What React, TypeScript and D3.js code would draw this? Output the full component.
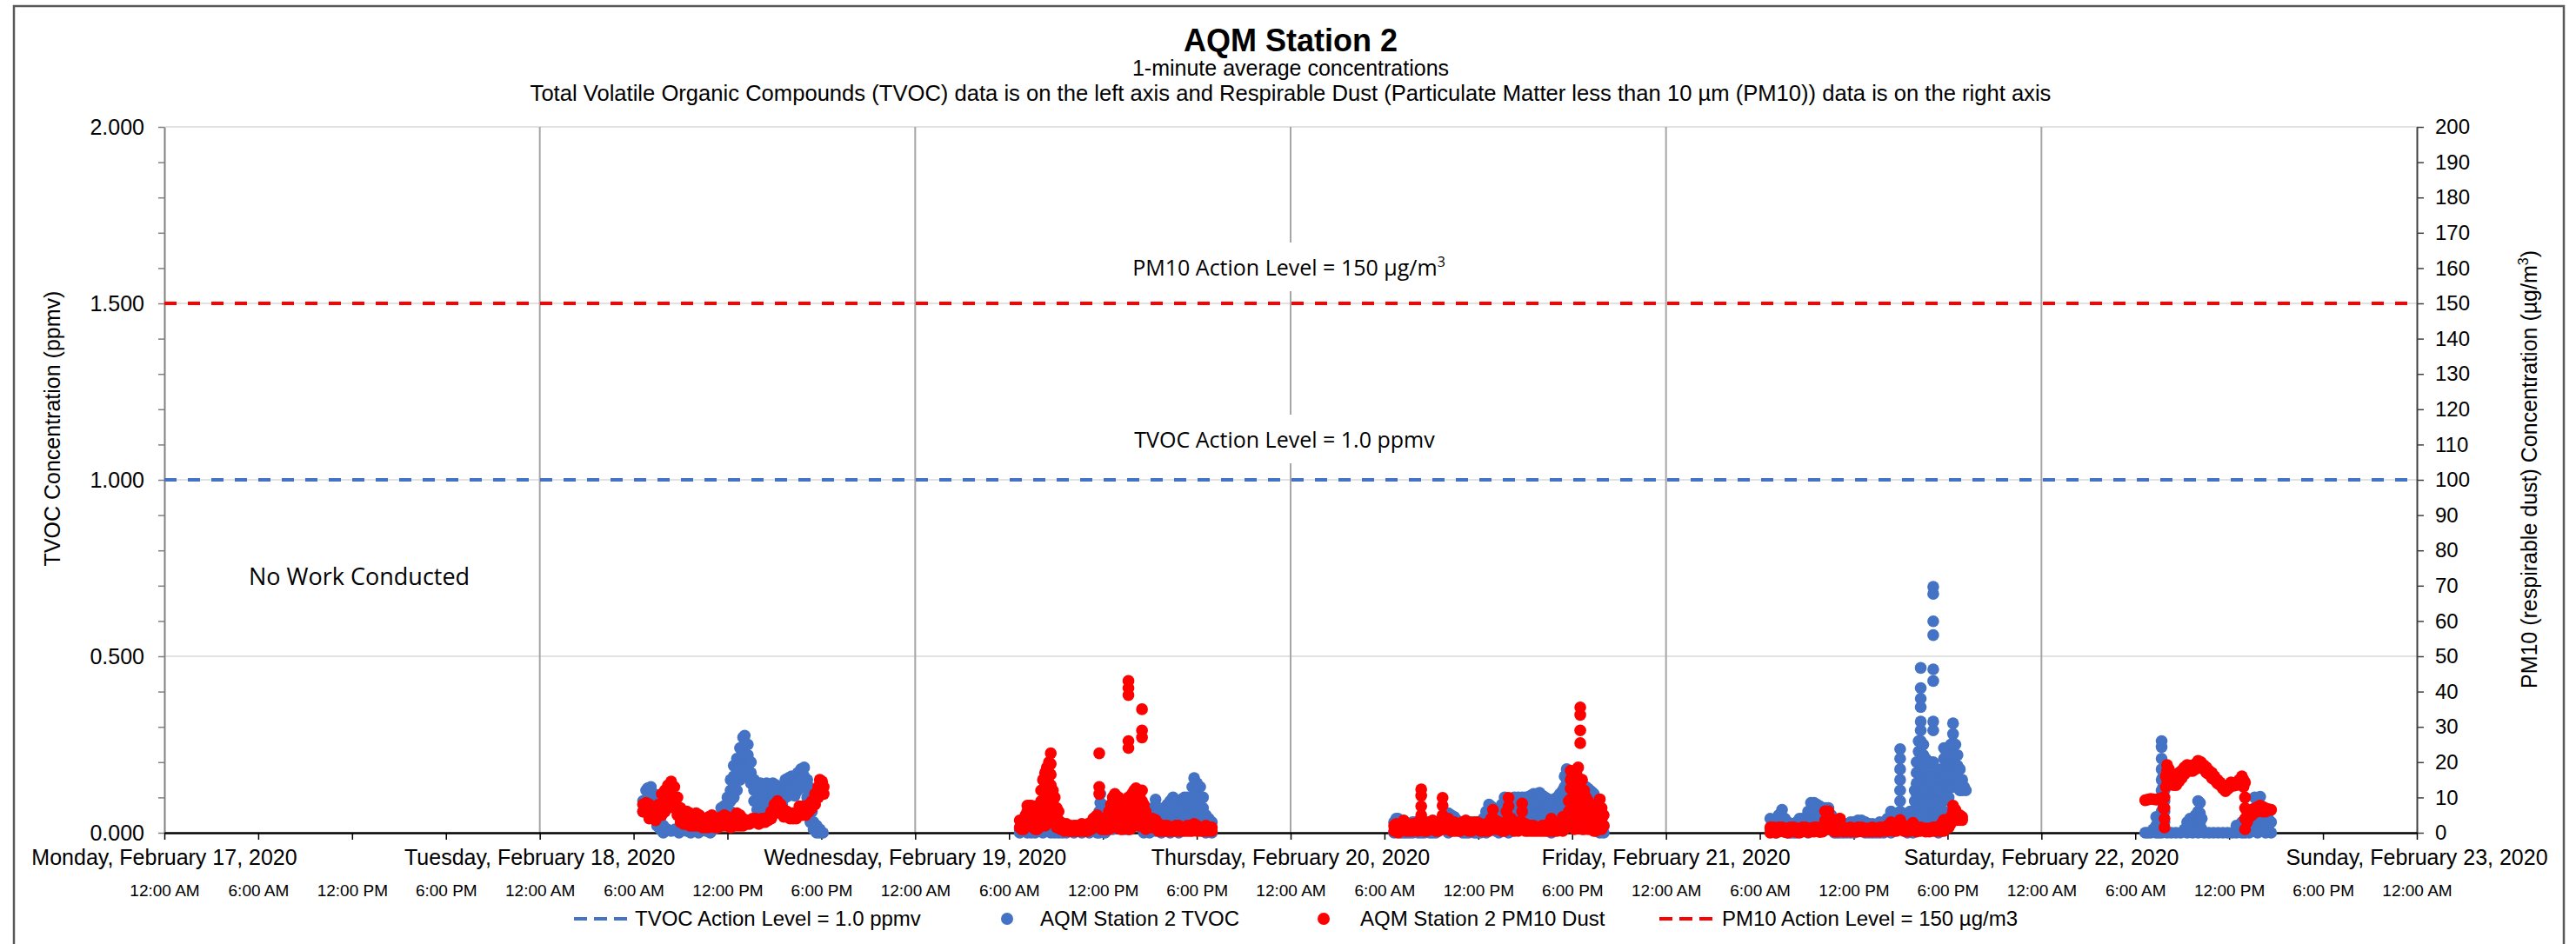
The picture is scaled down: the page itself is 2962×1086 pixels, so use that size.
import React, { useRef, useEffect } from "react";
import * as d3 from "d3";

// each row: [hour of day, reading, reading, ...]
type Row = number[];

const dayLabels = [
    "Monday, February 17, 2020",
    "Tuesday, February 18, 2020",
    "Wednesday, February 19, 2020",
    "Thursday, February 20, 2020",
    "Friday, February 21, 2020",
    "Saturday, February 22, 2020",
    "Sunday, February 23, 2020",
];
const tvocTicks = d3.range(0, 21).map((i) => i / 10);
const pm10Ticks = d3.range(0, 21).map((i) => i * 10);
const tvocGrid = [0.5, 1.0, 1.5, 2.0];
const tvocActionLevel = 1.0;
const pm10ActionLevel = 150;

const tvocFeb18: Row[] = [
    [6.6, 0.09, 0.06], [6.8, 0.12, 0.09, 0.06], [6.9, 0.126, 0.1, 0.07], [7.1, 0.13, 0.1, 0.08],
    [7.3, 0.11, 0.08, 0.05], [7.5, 0.07, 0.04, 0.02], [7.7, 0.04, 0.01], [7.9, 0.02, 0.0],
    [8.15, 0.01], [8.4, 0.005], [8.65, 0.01], [8.9, 0.0], [9.15, 0.01], [9.4, 0.005], [9.65, 0.0],
    [9.9, 0.01], [10.15, 0.0], [10.4, 0.01], [10.65, 0.005], [10.9, 0.0], [11.15, 0.01], [11.4, 0.02],
    [11.6, 0.07, 0.05, 0.03], [11.8, 0.076, 0.05, 0.03], [12.0, 0.1, 0.08, 0.05],
    [12.2, 0.15, 0.12, 0.09, 0.06], [12.4, 0.19, 0.16, 0.13, 0.1], [12.6, 0.21, 0.18, 0.15, 0.12],
    [12.8, 0.24, 0.21, 0.18, 0.15], [13.0, 0.27, 0.245, 0.22, 0.19], [13.1, 0.275, 0.25, 0.22, 0.19, 0.16],
    [13.3, 0.25, 0.22, 0.19, 0.16], [13.5, 0.2, 0.17, 0.14], [13.7, 0.15, 0.12, 0.09],
    [13.9, 0.14, 0.115, 0.09, 0.065], [14.1, 0.14, 0.115, 0.09, 0.065], [14.3, 0.135, 0.11, 0.085, 0.06],
    [14.5, 0.14, 0.115, 0.09, 0.065], [14.7, 0.135, 0.11, 0.085, 0.06], [14.9, 0.14, 0.115, 0.09, 0.065],
    [15.1, 0.135, 0.11, 0.085, 0.06], [15.3, 0.13, 0.105, 0.08], [15.5, 0.13, 0.105, 0.08],
    [15.7, 0.15, 0.125, 0.1], [15.9, 0.155, 0.13, 0.105], [16.1, 0.16, 0.135, 0.11],
    [16.3, 0.155, 0.13, 0.105], [16.5, 0.17, 0.145, 0.12], [16.7, 0.18, 0.155, 0.13],
    [16.9, 0.185, 0.16, 0.135], [17.1, 0.15, 0.125, 0.1], [17.2, 0.13, 0.1, 0.07],
    [17.3, 0.09, 0.06, 0.03], [17.4, 0.06, 0.03], [17.5, 0.03, 0.01], [17.7, 0.02, 0.0],
    [17.9, 0.01, 0.0], [18.1, 0.0],
];
const pm10Feb18: Row[] = [
    [6.6, 8, 6], [6.8, 8.5, 6.5], [7.0, 8, 6, 4], [7.2, 6.5, 4.5], [7.4, 5.5, 3.5], [7.6, 8, 5],
    [7.8, 11, 8, 5], [8.0, 12, 9, 6], [8.2, 13.5, 10.5, 8], [8.4, 14.5, 11.5, 9], [8.6, 13, 10, 7],
    [8.8, 10, 7, 5], [9.0, 7, 5, 3], [9.2, 6, 4, 2.5], [9.4, 6, 4, 2.5], [9.6, 5.5, 3.5, 2],
    [9.8, 5, 3, 2], [10.0, 5.5, 3.5, 2], [10.2, 5, 3, 2], [10.4, 4, 2.5, 1.5], [10.6, 4, 2.5, 1.5],
    [10.8, 4.5, 3, 1.5], [11.0, 5, 3, 2], [11.2, 4, 2.5, 1.5], [11.4, 4, 2.5, 1.5], [11.6, 4.5, 3, 2],
    [11.8, 5, 3, 2], [12.0, 4.5, 3, 2], [12.2, 4, 2.5, 1.5], [12.4, 4, 2.5, 2], [12.6, 5.5, 3.5, 2],
    [12.8, 5, 3, 2], [13.0, 4, 2.5, 2], [13.2, 3.5, 2.5], [13.4, 3.5, 2.5], [13.6, 4, 3],
    [13.8, 4, 3], [14.0, 3.5, 2.5], [14.2, 4, 3], [14.4, 4, 3], [14.6, 4.5, 3.5], [14.8, 6, 4],
    [15.0, 8, 5.5], [15.2, 9, 6.5], [15.4, 8, 5.5], [15.6, 6.5, 4.5], [15.8, 6, 4.5], [16.0, 5.5, 4],
    [16.2, 5.5, 4], [16.4, 5, 4], [16.6, 7.5, 5], [16.8, 7.5, 5], [17.0, 7, 5], [17.2, 8, 6],
    [17.4, 9, 7], [17.6, 11, 8], [17.8, 13, 10], [17.9, 15, 12], [18.05, 14.5, 11.5], [18.15, 13, 11],
];

const tvocFeb19: Row[] = [
    [6.68, 0.01, 0.0], [6.93, 0.005], [7.17, 0.01, 0.0], [7.42, 0.0], [7.67, 0.01, 0.0], [7.92, 0.005],
    [8.17, 0.0], [8.41, 0.01], [8.66, 0.005, 0.0], [8.91, 0.0], [9.16, 0.0], [9.41, 0.0], [9.66, 0.0],
    [10.15, 0.0], [10.65, 0.0], [11.14, 0.0], [11.64, 0.03, 0.0], [11.76, 0.06, 0.03, 0.0],
    [11.84, 0.11, 0.085, 0.06, 0.03], [11.95, 0.08, 0.05, 0.02], [12.14, 0.02, 0.0], [12.4, 0.01],
    [12.63, 0.01], [12.9, 0.02], [13.13, 0.02], [13.4, 0.01], [13.63, 0.01], [13.9, 0.02],
    [14.12, 0.02], [14.37, 0.02], [14.62, 0.03, 0.0], [14.8, 0.05, 0.02], [14.99, 0.06, 0.03, 0.0],
    [15.18, 0.07, 0.04, 0.01], [15.36, 0.094, 0.065, 0.035, 0.005], [15.55, 0.07, 0.04, 0.01],
    [15.74, 0.05, 0.025, 0.0], [15.92, 0.07, 0.04, 0.01], [16.11, 0.08, 0.05, 0.02],
    [16.3, 0.09, 0.06, 0.03, 0.0], [16.48, 0.1, 0.07, 0.04, 0.01], [16.67, 0.09, 0.06, 0.03],
    [16.85, 0.09, 0.06, 0.03, 0.0], [17.03, 0.095, 0.065, 0.035], [17.22, 0.1, 0.07, 0.04, 0.01],
    [17.4, 0.1, 0.07, 0.04], [17.59, 0.1, 0.07, 0.04, 0.01], [17.72, 0.13, 0.1, 0.07],
    [17.84, 0.155, 0.13, 0.1, 0.07, 0.04], [18.02, 0.14, 0.11, 0.08, 0.05],
    [18.21, 0.13, 0.1, 0.07, 0.04, 0.01], [18.4, 0.1, 0.07, 0.04, 0.01], [18.58, 0.05, 0.02, 0.0],
    [18.77, 0.04, 0.01], [18.96, 0.03, 0.0],
];
const pm10Feb19: Row[] = [
    [6.68, 3.5, 1.5], [6.8, 3, 1], [6.93, 3, 1], [7.05, 5, 2], [7.17, 7.7, 6, 3], [7.3, 7.7, 5, 2],
    [7.42, 7.7, 6, 2], [7.55, 7.5, 4.5, 1.5], [7.67, 7.5, 6, 3, 1], [7.8, 7, 4, 1], [7.92, 7.7, 4.5, 1.5],
    [8.05, 12, 9, 6, 3], [8.17, 15, 12, 9, 6, 3], [8.3, 17, 14, 11, 8, 5, 2],
    [8.41, 18.5, 15.5, 12.5, 9.5, 6.5, 3.5], [8.55, 20, 17, 14, 11, 8, 5],
    [8.66, 22.5, 19.5, 16.5, 13.5, 10.5, 7.5], [8.8, 12, 9, 6, 3], [8.91, 10, 7, 4], [9.05, 7, 4, 1.5],
    [9.16, 6, 3.5, 1.5], [9.3, 3, 1], [9.41, 2.5, 1], [9.55, 2, 0.5], [9.66, 2.5, 1], [9.8, 2, 0.5],
    [9.9, 2, 0.5], [10.05, 1.5, 0.5], [10.15, 2, 0.5], [10.3, 2, 0.5], [10.4, 1.5, 0.5], [10.55, 2, 0.5],
    [10.65, 2.5, 1], [10.8, 2, 0.5], [10.9, 2, 0.5], [11.05, 2.5, 0.5], [11.14, 2.5, 1], [11.27, 3, 1],
    [11.39, 4, 1.5], [11.52, 4.5, 2], [11.64, 5, 2], [11.76, 22.5, 13, 11, 4], [11.9, 4, 1], [12.01, 4, 1],
    [12.13, 3, 1], [12.26, 3, 1], [12.38, 6, 3, 1], [12.51, 8, 5, 2], [12.63, 10, 7, 4, 1.5],
    [12.76, 11, 8, 5, 2], [12.88, 10, 7, 4, 1.5], [13.0, 10, 7, 4, 1.5], [13.13, 9, 6, 3, 1],
    [13.25, 9, 6, 3, 1], [13.38, 8, 5, 2], [13.5, 7.7, 4.5, 1.5], [13.63, 43, 41, 39, 26, 24, 10, 7, 4, 1],
    [13.75, 10, 7, 4, 1], [13.87, 11, 8, 5, 2], [14.0, 12, 9, 6, 3], [14.12, 12.6, 9.5, 6.5, 3.5],
    [14.25, 11, 8, 5, 2], [14.37, 11, 8, 5, 2], [14.5, 35, 29, 27, 12, 9, 6, 3], [14.62, 8, 5, 2],
    [14.74, 6, 3, 1], [14.87, 4, 1.5], [14.99, 4, 1.5], [15.17, 4, 1.5], [15.36, 3.6, 1.5],
    [15.55, 2.5, 0.5], [15.74, 2, 0.5], [15.92, 2, 0.5], [16.11, 2, 0.5], [16.3, 1.5, 0.5],
    [16.48, 1.5, 0.5], [16.67, 2, 0.5], [16.85, 2, 0.5], [17.03, 1.5, 0.5], [17.22, 1.5, 0.5],
    [17.4, 2, 0.5], [17.59, 2, 0.5], [17.72, 2, 0.5], [17.84, 2.5, 1], [18.02, 2, 0.5],
    [18.21, 1.5, 0.5], [18.4, 1.5, 0.5], [18.58, 2, 0.5], [18.77, 1.5, 0.5], [18.96, 1.5, 0.5],
];

const tvocFeb20: Row[] = [
    [6.61, 0.03, 0.0], [6.75, 0.04, 0.01], [6.86, 0.04, 0.01], [7.05, 0.03, 0.0], [7.23, 0.03, 0.0],
    [7.4, 0.02, 0.0], [7.6, 0.02, 0.0], [7.8, 0.03, 0.0], [7.98, 0.03, 0.01], [8.15, 0.02, 0.0],
    [8.35, 0.02, 0.0], [8.55, 0.03, 0.0], [8.72, 0.03, 0.01], [8.9, 0.025, 0.0], [9.09, 0.025, 0.0],
    [9.28, 0.03, 0.0], [9.47, 0.03, 0.01], [9.71, 0.04, 0.01], [9.9, 0.045, 0.015],
    [10.08, 0.055, 0.03, 0.0], [10.27, 0.05, 0.02], [10.46, 0.045, 0.02], [10.65, 0.035, 0.01],
    [10.83, 0.03, 0.01], [11.0, 0.025, 0.0], [11.2, 0.02, 0.0], [11.38, 0.03, 0.0], [11.57, 0.03, 0.01],
    [11.75, 0.025, 0.0], [11.94, 0.02, 0.0], [12.13, 0.03, 0.0], [12.32, 0.04, 0.02],
    [12.5, 0.06, 0.03, 0.0], [12.69, 0.08, 0.05, 0.02], [12.82, 0.075, 0.045, 0.015],
    [12.94, 0.07, 0.04, 0.01], [13.12, 0.065, 0.035, 0.005], [13.31, 0.06, 0.03, 0.0],
    [13.5, 0.08, 0.05, 0.02], [13.68, 0.1, 0.07, 0.04, 0.01], [13.8, 0.095, 0.065, 0.035],
    [13.93, 0.09, 0.06, 0.03, 0.0], [14.1, 0.095, 0.065, 0.035, 0.005], [14.3, 0.1, 0.07, 0.04, 0.01],
    [14.55, 0.1, 0.07, 0.04], [14.8, 0.1, 0.07, 0.04, 0.01], [15.0, 0.1, 0.07, 0.04],
    [15.17, 0.1, 0.07, 0.04, 0.01], [15.35, 0.105, 0.075, 0.045], [15.54, 0.11, 0.08, 0.05, 0.02],
    [15.72, 0.11, 0.08, 0.05], [15.91, 0.113, 0.085, 0.055, 0.025], [16.1, 0.105, 0.075, 0.045],
    [16.29, 0.1, 0.07, 0.04, 0.01], [16.48, 0.095, 0.065, 0.035], [16.66, 0.09, 0.06, 0.03, 0.0],
    [16.85, 0.095, 0.065, 0.035], [17.03, 0.1, 0.07, 0.04, 0.01], [17.22, 0.11, 0.08, 0.05],
    [17.4, 0.12, 0.09, 0.06, 0.03], [17.52, 0.16, 0.13, 0.1, 0.07], [17.65, 0.18, 0.15, 0.12, 0.09, 0.06],
    [17.78, 0.175, 0.145, 0.115, 0.085], [17.9, 0.165, 0.135, 0.105, 0.075, 0.045],
    [18.02, 0.15, 0.12, 0.09, 0.06], [18.15, 0.14, 0.11, 0.08, 0.05], [18.27, 0.13, 0.1, 0.07],
    [18.39, 0.12, 0.09, 0.06, 0.03], [18.52, 0.12, 0.09, 0.06], [18.64, 0.12, 0.09, 0.06, 0.03],
    [18.77, 0.125, 0.095, 0.065], [18.89, 0.13, 0.1, 0.07, 0.04], [19.02, 0.125, 0.095, 0.065],
    [19.14, 0.12, 0.09, 0.06, 0.03], [19.27, 0.115, 0.085, 0.055], [19.39, 0.11, 0.08, 0.05, 0.02],
    [19.52, 0.09, 0.06, 0.03], [19.64, 0.07, 0.04, 0.01], [19.76, 0.06, 0.03, 0.0], [19.88, 0.04, 0.01],
    [20.01, 0.02, 0.0],
];
const pm10Feb20: Row[] = [
    [6.61, 2, 0.5], [6.75, 2.5, 0.5], [6.86, 1.5, 0], [7.05, 2, 0.5], [7.23, 3.5, 1], [7.4, 2.5, 0.5],
    [7.6, 2, 0.5], [7.8, 2.5, 0.5], [7.98, 2.5, 1], [8.15, 3, 0.5], [8.35, 12.3, 10.5, 7.5, 5, 2],
    [8.55, 3, 0.5], [8.72, 2.5, 0.5], [8.9, 3, 1], [9.09, 3.5, 1], [9.28, 2.5, 0.5], [9.47, 2, 0.5],
    [9.71, 9.9, 7.7, 5, 2], [9.9, 4, 1], [10.08, 4, 1], [10.27, 3, 0.5], [10.46, 3, 0.5], [10.65, 2.5, 0.5],
    [10.83, 2.5, 0.5], [11.0, 3, 1], [11.2, 3.5, 1], [11.38, 3, 0.5], [11.57, 2.5, 0.5], [11.75, 3, 1],
    [11.94, 3, 1], [12.13, 2.5, 0.5], [12.32, 2, 0.5], [12.5, 2.5, 0.5], [12.69, 2.5, 0.5], [12.82, 4, 1.5],
    [12.94, 6.5, 4, 1.5], [13.12, 3.5, 1], [13.31, 3, 1], [13.5, 2.5, 0.5], [13.68, 2, 0.5], [13.8, 6, 3, 1],
    [13.93, 9.9, 7.5, 4.5, 1.5], [14.1, 4, 1], [14.3, 2.5, 0.5], [14.55, 3, 0.5], [14.8, 8.3, 6, 3, 1],
    [15.0, 2.5, 0.5], [15.17, 1.5, 0.5], [15.35, 2, 0.5], [15.54, 2, 0.5], [15.72, 1.5, 0.5],
    [15.91, 1.5, 0.5], [16.1, 2, 0.5], [16.29, 2, 0.5], [16.48, 2.5, 0.5], [16.66, 4, 2, 0.5],
    [16.85, 2.5, 0.5], [17.03, 2, 0.5], [17.22, 3, 1], [17.4, 4.5, 2, 0.5], [17.52, 3.5, 1],
    [17.65, 4, 1.5], [17.78, 9, 6, 3], [17.9, 17.6, 15, 12.5, 9.5, 6.5, 3.5], [18.02, 16, 13, 10, 7, 4],
    [18.15, 16, 13, 10, 7, 4, 1], [18.27, 17, 14, 11, 8, 5, 2], [18.39, 18.5, 15.5, 12.5, 9.5, 6.5, 3.5],
    [18.52, 35.5, 33.4, 29, 25.4, 15, 12, 9, 6, 3], [18.64, 15, 12, 9, 6, 3, 1], [18.77, 12, 9, 6, 3, 1],
    [18.89, 10, 7, 4, 1.5], [19.02, 9, 6, 3, 1], [19.14, 8, 5, 2], [19.27, 7, 4, 1], [19.39, 6, 3, 0.5],
    [19.52, 5, 2, 0.5], [19.64, 8, 5, 2], [19.76, 9.5, 7, 4.5, 1.5], [19.88, 7, 4, 1], [20.01, 5, 2],
];

const tvocFeb21: Row[] = [
    [6.67, 0.04, 0.01], [6.85, 0.035, 0.005], [7.04, 0.03, 0.0], [7.2, 0.05, 0.02], [7.41, 0.065, 0.04, 0.01],
    [7.6, 0.04, 0.01], [7.78, 0.03, 0.0], [7.97, 0.025, 0.0], [8.16, 0.02, 0.0], [8.35, 0.03, 0.0],
    [8.53, 0.04, 0.02], [8.72, 0.04, 0.01], [8.9, 0.04, 0.01], [9.08, 0.06, 0.03, 0.0],
    [9.27, 0.085, 0.055, 0.025], [9.46, 0.085, 0.055, 0.025], [9.65, 0.08, 0.05, 0.02],
    [9.83, 0.075, 0.045, 0.015], [10.02, 0.07, 0.04, 0.01], [10.2, 0.07, 0.04, 0.01],
    [10.39, 0.07, 0.04, 0.01], [10.57, 0.05, 0.02], [10.76, 0.03, 0.0], [10.95, 0.03, 0.0],
    [11.14, 0.03, 0.0], [11.35, 0.025, 0.0], [11.57, 0.02, 0.0], [11.8, 0.03, 0.0], [12.04, 0.03, 0.0],
    [12.27, 0.035, 0.005], [12.5, 0.035, 0.01], [12.74, 0.03, 0.0], [12.97, 0.025, 0.0], [13.2, 0.025, 0.0],
    [13.44, 0.02, 0.0], [13.67, 0.03, 0.0], [13.91, 0.025, 0.0], [14.15, 0.04, 0.01], [14.38, 0.06, 0.03, 0.0],
    [14.55, 0.055, 0.025], [14.73, 0.05, 0.02], [14.96, 0.237, 0.21, 0.18, 0.15, 0.12, 0.09, 0.06, 0.03],
    [15.2, 0.05, 0.02], [15.43, 0.055, 0.03, 0.0], [15.6, 0.06, 0.03], [15.78, 0.06, 0.03, 0.0],
    [15.9, 0.12, 0.09, 0.06, 0.03], [16.01, 0.2, 0.17, 0.14, 0.11, 0.08, 0.05, 0.02],
    [16.15, 0.26, 0.23, 0.2, 0.17, 0.14, 0.11, 0.08, 0.05],
    [16.29, 0.467, 0.41, 0.38, 0.356, 0.315, 0.29, 0.26, 0.23, 0.2, 0.17, 0.14, 0.11, 0.08, 0.05, 0.02],
    [16.45, 0.25, 0.22, 0.19, 0.16, 0.13, 0.1, 0.07, 0.04], [16.6, 0.21, 0.18, 0.15, 0.12, 0.09, 0.06],
    [16.72, 0.19, 0.16, 0.13, 0.1, 0.07, 0.04], [16.83, 0.18, 0.15, 0.12, 0.09, 0.06, 0.03],
    [16.96, 0.2, 0.17, 0.14, 0.11, 0.08, 0.05],
    [17.09, 0.697, 0.677, 0.599, 0.56, 0.463, 0.43, 0.315, 0.29, 0.2, 0.17, 0.14, 0.11, 0.08, 0.05, 0.02],
    [17.25, 0.15, 0.12, 0.09, 0.06, 0.03], [17.42, 0.12, 0.09, 0.06, 0.03, 0.0],
    [17.6, 0.18, 0.15, 0.12, 0.09, 0.06, 0.03], [17.77, 0.24, 0.21, 0.18, 0.15, 0.12, 0.09, 0.06, 0.03],
    [17.92, 0.23, 0.2, 0.17, 0.14, 0.11], [18.07, 0.22, 0.19, 0.16, 0.13, 0.1],
    [18.2, 0.25, 0.22, 0.19, 0.16, 0.13], [18.35, 0.31, 0.28, 0.25, 0.22, 0.19, 0.16, 0.13],
    [18.5, 0.25, 0.22, 0.19, 0.16, 0.13], [18.63, 0.22, 0.19, 0.16, 0.13], [18.78, 0.18, 0.15, 0.12],
    [18.93, 0.15, 0.12], [19.05, 0.13], [19.17, 0.12],
];
const pm10Feb21: Row[] = [
    [6.67, 1.5, 0], [6.85, 1.5, 0.3], [7.04, 1, 0], [7.2, 1.5, 0.3], [7.41, 1.5, 0.5], [7.6, 1.2, 0.2],
    [7.78, 1.2, 0], [7.97, 1.5, 0.3], [8.16, 1.5, 0.5], [8.35, 1.2, 0.2], [8.53, 1, 0], [8.72, 1.5, 0.3],
    [8.9, 1.5, 0.5], [9.08, 1.2, 0.2], [9.27, 1.2, 0.3], [9.46, 1.5, 0.3], [9.65, 1.5, 0.5], [9.83, 1.2, 0.2],
    [10.02, 1, 0.3], [10.17, 6.1, 3.5, 1], [10.39, 6.1, 3.6, 1], [10.57, 4, 1.5], [10.76, 1.5, 0.3],
    [10.95, 1.5, 0.3], [11.1, 4, 1.5], [11.14, 3.9, 1], [11.35, 1.5, 0.3], [11.57, 1.2, 0.4],
    [11.8, 1.5, 0.3], [12.04, 1, 0.3], [12.27, 1.5, 0.3], [12.5, 1.5, 0.4], [12.74, 1.2, 0.3],
    [12.97, 1.2, 0.3], [13.2, 1.5, 0.3], [13.44, 1, 0.4], [13.67, 1.5, 0.3], [13.91, 1.5, 0.5],
    [14.15, 2, 0.5], [14.38, 3, 1], [14.55, 2, 0.5], [14.73, 1.5, 0.5], [14.96, 3.6, 1], [15.2, 2, 0.5],
    [15.43, 1.2, 0.4], [15.6, 2, 0.5], [15.78, 2.8, 1], [16.01, 1.5, 0.3], [16.29, 1.5, 0.5],
    [16.6, 1.2, 0.3], [16.83, 1.2, 0.3], [17.09, 1.5, 0.5], [17.25, 1.5, 0.5], [17.42, 1.5, 0.5],
    [17.6, 2.5, 0.5], [17.77, 3.6, 2, 0.5], [17.92, 3.5, 1.5], [18.07, 3, 1.5], [18.2, 4.5, 2.5],
    [18.35, 7.7, 6.1, 4], [18.5, 6.5, 4.5], [18.63, 5, 3.6], [18.78, 5, 3.6], [18.93, 4.5, 3.6],
];

const tvocFeb22: Row[] = [
    [6.63, 0.0], [6.8, 0.0], [6.98, 0.0], [7.15, 0.01], [7.33, 0.045, 0.02, 0.0], [7.5, 0.03, 0.0],
    [7.68, 0.26, 0.243, 0.21, 0.18, 0.15, 0.12, 0.09, 0.06, 0.03, 0.0],
    [7.78, 0.16, 0.13, 0.1, 0.07, 0.04, 0.01], [7.87, 0.12, 0.09, 0.06, 0.03], [8.03, 0.0], [8.3, 0.0],
    [8.6, 0.0], [8.9, 0.0], [9.15, 0.01], [9.31, 0.03, 0.0], [9.5, 0.04, 0.01], [9.66, 0.03, 0.0],
    [9.85, 0.05, 0.02], [10.02, 0.09, 0.06, 0.03, 0.0], [10.13, 0.085, 0.055, 0.025], [10.25, 0.04, 0.01],
    [10.4, 0.0], [10.7, 0.0], [11.0, 0.0], [11.3, 0.0], [11.6, 0.0], [11.9, 0.0], [12.2, 0.0],
    [12.47, 0.02, 0.0], [12.65, 0.02], [12.82, 0.03, 0.0], [13.01, 0.0], [13.29, 0.01, 0.0],
    [13.47, 0.05, 0.02], [13.64, 0.1, 0.07, 0.04, 0.01], [13.82, 0.09, 0.06, 0.03, 0.0],
    [13.99, 0.102, 0.075, 0.045, 0.015], [14.17, 0.07, 0.04, 0.01], [14.34, 0.06, 0.03, 0.0],
    [14.5, 0.04, 0.01], [14.69, 0.03, 0.0],
];
const pm10Feb22: Row[] = [
    [6.63, 9.2], [6.8, 9.4], [6.98, 9.6], [7.15, 9.5], [7.33, 9.4], [7.5, 9.6], [7.68, 9.8], [7.8, 10, 7],
    [7.87, 10, 7, 4, 1.5], [7.95, 16, 13], [8.03, 19.2, 17.6, 15], [8.15, 18, 15.5], [8.26, 16.7, 14.3],
    [8.43, 16, 13.5], [8.61, 16, 13.5], [8.78, 17, 14.5], [8.96, 17.6, 15.5], [9.13, 18.5, 16.5],
    [9.31, 19.2, 17.6], [9.48, 19, 17.5], [9.66, 18.8, 17.5], [9.84, 19.5, 18], [10.02, 20.4, 19.2],
    [10.2, 20, 18.5], [10.37, 19.2, 18], [10.55, 18.5, 17], [10.72, 17.6, 16.5], [10.9, 17, 15.5],
    [11.07, 16, 15], [11.25, 15, 14], [11.42, 14.3, 13.5], [11.6, 13.5, 12.5], [11.77, 12.6, 11.8],
    [11.95, 13.5, 12.5], [12.12, 14.3, 13.5], [12.3, 14, 13.3], [12.47, 14.3, 13.5], [12.65, 15, 14],
    [12.82, 16, 14.3], [12.92, 15, 13], [13.01, 14.3, 10, 7, 4, 1], [13.15, 6, 3], [13.29, 6.1, 4.4],
    [13.47, 6.5, 5], [13.64, 6.9, 6], [13.82, 7.3, 6], [13.99, 7.7, 6.1], [14.17, 7.3, 6], [14.34, 6.9, 6],
    [14.5, 6.7], [14.69, 6.5],
];

const tvocDays: [number, Row[]][] = [[18, tvocFeb18], [19, tvocFeb19], [20, tvocFeb20], [21, tvocFeb21], [22, tvocFeb22]];
const pm10Days: [number, Row[]][] = [[18, pm10Feb18], [19, pm10Feb19], [20, pm10Feb20], [21, pm10Feb21], [22, pm10Feb22]];

const BLUE = "#4472C4";
const RED = "#FF0000";
const FONT = "'Liberation Sans', Arial, sans-serif";
const LABEL_FONT = "'Open Sans', 'Noto Sans', sans-serif";

const toPoints = (days: [number, Row[]][]) =>
    days.flatMap(([day, rows]) =>
        rows.flatMap(([h, ...vals]) =>
            vals.map((v) => ({
                t: d3.timeMinute.offset(new Date(2020, 1, day), Math.round(h * 60)),
                v,
            }))
        )
    );

const App: React.FC = () => {
    const svgRef = useRef<SVGSVGElement | null>(null);

    useEffect(() => {
        const width = 2962;
        const height = 1086;
        const left = 189, right = 2779, top = 146, bottom = 958;

        const x = d3
            .scaleTime()
            .domain([new Date(2020, 1, 17), new Date(2020, 1, 23)])
            .range([left, right]);
        const yL = d3.scaleLinear().domain([0, 2]).range([bottom, top]);
        const yR = d3.scaleLinear().domain([0, 200]).range([bottom, top]);

        const svg = d3.select(svgRef.current!);
        svg.selectAll("*").remove();
        svg.attr("viewBox", `0 0 ${width} ${height}`).style("font-family", FONT);

        svg.append("rect").attr("width", width).attr("height", height).attr("fill", "#fff");
        svg.append("rect")
            .attr("x", 16).attr("y", 7).attr("width", 2932).attr("height", 1100)
            .attr("fill", "none").attr("stroke", "#595959").attr("stroke-width", 2.5);

        // titles
        const cx = (left + right) / 2;
        svg.append("text").attr("x", cx).attr("y", 59).attr("text-anchor", "middle")
            .style("font-size", "36px").style("font-weight", "bold").text("AQM Station 2");
        svg.append("text").attr("x", cx).attr("y", 87).attr("text-anchor", "middle")
            .style("font-size", "25px").text("1-minute average concentrations");
        svg.append("text").attr("x", cx).attr("y", 116).attr("text-anchor", "middle")
            .style("font-size", "25.6px")
            .text("Total Volatile Organic Compounds (TVOC) data is on the left axis and Respirable Dust (Particulate Matter less than 10 µm (PM10)) data is on the right axis");

        // gridlines
        svg.append("g").selectAll("line").data(tvocGrid).join("line")
            .attr("x1", left).attr("x2", right)
            .attr("y1", (d) => yL(d)).attr("y2", (d) => yL(d))
            .attr("stroke", "#d9d9d9").attr("stroke-width", 1.5);
        const midnights = d3.timeDay.range(new Date(2020, 1, 18), new Date(2020, 1, 23));
        svg.append("g").selectAll("line").data(midnights).join("line")
            .attr("x1", (d) => x(d)).attr("x2", (d) => x(d))
            .attr("y1", top).attr("y2", bottom)
            .attr("stroke", "#a6a6a6").attr("stroke-width", 2);

        // left axis
        const gL = svg.append("g").attr("transform", `translate(${left},0)`)
            .call(
                d3.axisLeft(yL).tickValues(tvocTicks).tickSize(7).tickSizeOuter(0).tickPadding(16)
                    .tickFormat((d) => (Math.round(+d * 10) % 5 === 0 ? d3.format(".3f")(+d) : ""))
            );
        gL.select(".domain").attr("stroke", "#808080").attr("stroke-width", 2);
        gL.selectAll(".tick line").attr("stroke", "#808080").attr("stroke-width", 1.5);
        gL.selectAll("text").style("font-size", "25px").style("font-family", FONT).attr("fill", "#000");

        // right axis
        const gR = svg.append("g").attr("transform", `translate(${right},0)`)
            .call(d3.axisRight(yR).tickValues(pm10Ticks).tickSize(8).tickSizeOuter(0).tickPadding(13));
        gR.select(".domain").attr("stroke", "#404040").attr("stroke-width", 2);
        gR.selectAll(".tick line").attr("stroke", "#404040").attr("stroke-width", 1.5);
        gR.selectAll("text").style("font-size", "24px").style("font-family", FONT).attr("fill", "#000");

        // bottom axis
        const gB = svg.append("g").attr("transform", `translate(0,${bottom})`)
            .call(
                d3.axisBottom(x).ticks(d3.timeHour.every(6)).tickSize(8).tickSizeOuter(0).tickPadding(52)
                    .tickFormat((d) => d3.timeFormat("%-I:%M %p")(d as Date))
            );
        gB.select(".domain").attr("stroke", "#000").attr("stroke-width", 2.5);
        gB.selectAll(".tick line").attr("stroke", "#000").attr("stroke-width", 1.5);
        gB.selectAll("text").style("font-size", "19px").style("font-family", FONT).attr("fill", "#000");

        const dayStarts = d3.timeDay.range(new Date(2020, 1, 17), new Date(2020, 1, 24));
        svg.append("g").selectAll("text").data(dayStarts).join("text")
            .attr("x", (d) => x(d)).attr("y", 995).attr("text-anchor", "middle")
            .style("font-size", "25px")
            .text((d, i) => dayLabels[i]);

        // axis titles
        svg.append("text").attr("transform", "translate(60,493) rotate(-90)")
            .attr("text-anchor", "middle").attr("dy", "0.35em")
            .style("font-size", "25px").text("TVOC Concentration (ppmv)");
        const rt = svg.append("text").attr("transform", "translate(2908,540) rotate(-90)")
            .attr("text-anchor", "middle").attr("dy", "0.35em").style("font-size", "25px");
        rt.append("tspan").text("PM10 (respirable dust) Concentration (µg/m");
        rt.append("tspan").attr("dy", -10).style("font-size", "16px").text("3");
        rt.append("tspan").attr("dy", 10).text(")");

        // action level lines and scatter
        svg.append("line").attr("x1", left).attr("x2", right)
            .attr("y1", yL(tvocActionLevel)).attr("y2", yL(tvocActionLevel))
            .attr("stroke", BLUE).attr("stroke-width", 4).attr("stroke-dasharray", "14 13");

        const tvocPts = toPoints(tvocDays);
        const pmPts = toPoints(pm10Days);
        svg.append("g").selectAll("circle").data(tvocPts).join("circle")
            .attr("cx", (d) => x(d.t)).attr("cy", (d) => yL(d.v)).attr("r", 6.8).attr("fill", BLUE);
        svg.append("g").selectAll("circle").data(pmPts).join("circle")
            .attr("cx", (d) => x(d.t)).attr("cy", (d) => yR(d.v)).attr("r", 6.8).attr("fill", RED);

        svg.append("line").attr("x1", left).attr("x2", right)
            .attr("y1", yR(pm10ActionLevel)).attr("y2", yR(pm10ActionLevel))
            .attr("stroke", RED).attr("stroke-width", 4).attr("stroke-dasharray", "14 13");

        // annotation boxes
        const note = (xc: number, yb: number, parts: [string, boolean][]) => {
            const g = svg.append("g");
            const t = g.append("text").attr("x", xc).attr("y", yb).attr("text-anchor", "middle")
                .style("font-family", LABEL_FONT).style("font-size", "25px");
            parts.forEach(([s, sup]) => {
                t.append("tspan").attr("dy", sup ? -10 : 0).style("font-size", sup ? "16px" : null).text(s);
            });
            const b = (t.node() as SVGTextElement).getBBox();
            g.insert("rect", "text").attr("x", b.x - 12).attr("y", yb - 38)
                .attr("width", b.width + 24).attr("height", 56).attr("fill", "#fff");
        };
        note(1482, 317, [["PM10 Action Level = 150 µg/m", false], ["3", true]]);
        note(1477, 515, [["TVOC Action Level = 1.0 ppmv", false]]);
        svg.append("text").attr("x", 286).attr("y", 673)
            .style("font-family", LABEL_FONT).style("font-size", "27px").text("No Work Conducted");

        // legend
        const lg = svg.append("g").style("font-size", "24px");
        const ly = 1057;
        lg.append("line").attr("x1", 660).attr("x2", 728).attr("y1", ly).attr("y2", ly)
            .attr("stroke", BLUE).attr("stroke-width", 4).attr("stroke-dasharray", "15 8");
        lg.append("text").attr("x", 730).attr("y", ly).attr("dy", "0.35em").text("TVOC Action Level = 1.0 ppmv");
        lg.append("circle").attr("cx", 1158).attr("cy", ly).attr("r", 7).attr("fill", BLUE);
        lg.append("text").attr("x", 1196).attr("y", ly).attr("dy", "0.35em").text("AQM Station 2 TVOC");
        lg.append("circle").attr("cx", 1522).attr("cy", ly).attr("r", 7).attr("fill", RED);
        lg.append("text").attr("x", 1564).attr("y", ly).attr("dy", "0.35em").text("AQM Station 2 PM10 Dust");
        lg.append("line").attr("x1", 1908).attr("x2", 1976).attr("y1", ly).attr("y2", ly)
            .attr("stroke", RED).attr("stroke-width", 4).attr("stroke-dasharray", "15 8");
        lg.append("text").attr("x", 1980).attr("y", ly).attr("dy", "0.35em").text("PM10 Action Level = 150 µg/m3");
    }, []);

    return (
        <svg
            ref={svgRef}
            width={2962}
            height={1086}
            style={{ position: "absolute", left: 0, top: 0, display: "block" }}
        />
    );
};

export default App;
